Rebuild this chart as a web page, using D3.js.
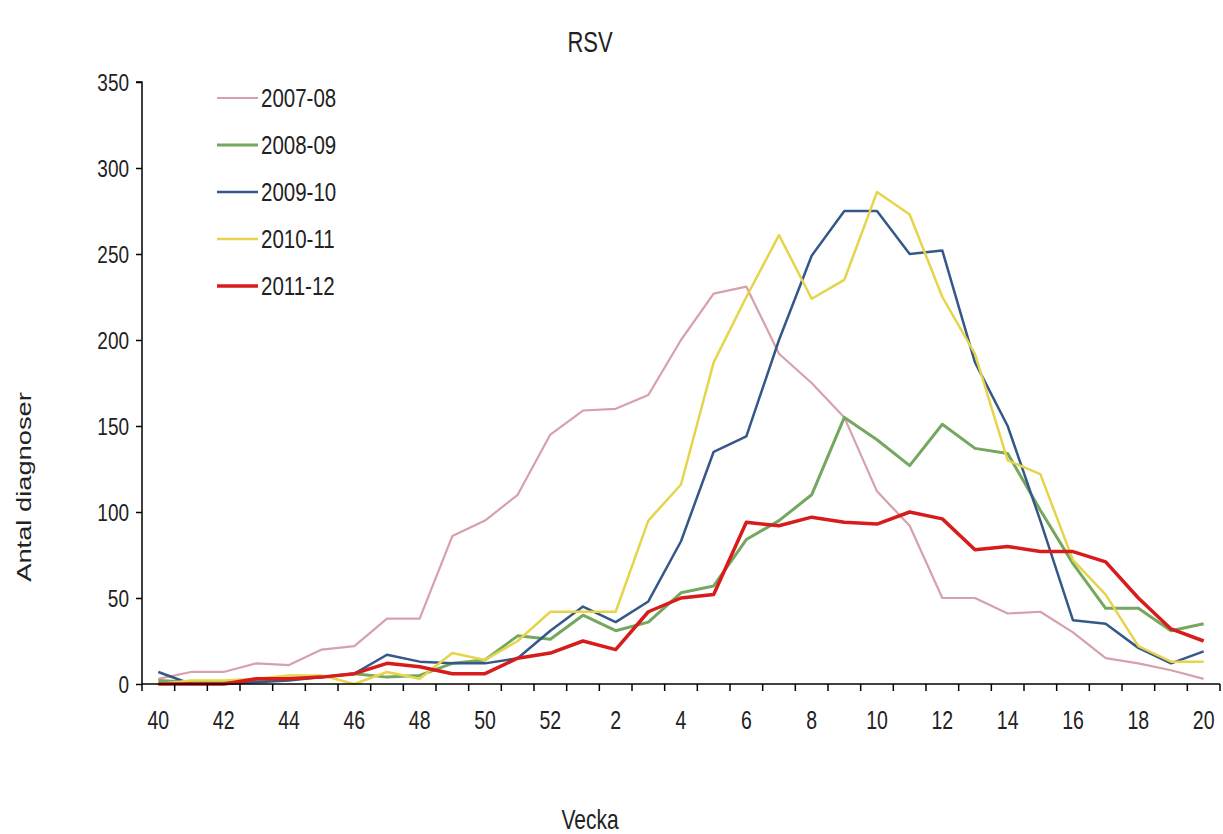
<!DOCTYPE html>
<html><head><meta charset="utf-8">
<script src="https://cdn.jsdelivr.net/npm/d3@7"></script>
<style>body{margin:0;background:#fff;} svg{display:block;} text{font-family:"Liberation Sans",Arial,sans-serif;fill:#222;}</style>
</head><body><svg id="c" width="1223" height="834"></svg>
<script>
const weeks = [40,41,42,43,44,45,46,47,48,49,50,51,52,1,2,3,4,5,6,7,8,9,10,11,12,13,14,15,16,17,18,19,20];
const tickWeeks = [40,42,44,46,48,50,52,2,4,6,8,10,12,14,16,18,20];
const yTicks = [0,50,100,150,200,250,300,350];
const seriesNames = ["2007-08","2008-09","2009-10","2010-11","2011-12"];
const s0708 = [3,7,7,12,11,20,22,38,38,86,95,110,145,159,160,168,200,227,231,192,175,155,112,92,50,50,41,42,30,15,12,8,3];
const s0809 = [2,1,1,2,3,4,6,4,5,12,14,28,26,40,31,36,53,57,84,95,110,155,142,127,151,137,134,101,70,44,44,31,35];
const s0910 = [7,0,0,1,2,4,6,17,13,12,12,15,31,45,36,48,83,135,144,200,249,275,275,250,252,187,150,95,37,35,21,12,19];
const s1011 = [0,2,2,3,5,5,0,7,3,18,14,25,42,42,42,95,116,187,225,261,224,235,286,273,225,192,130,122,72,52,22,13,13];
const s1112 = [0,0,0,3,3,4,6,12,10,6,6,15,18,25,20,42,50,52,94,92,97,94,93,100,96,78,80,77,77,71,50,32,25];
const seriesValues = [s0708,s0809,s0910,s1011,s1112];
const colors = ["#d7a1ab","#74a85e","#355889","#e6d44a","#d81c1c"];
const widths = [2.2,3,2.5,2.5,3.5];

const svg = d3.select("#c");
const L = 142, R = 1220, T = 82, B = 684;
const SY = 1.3; // vertical stretch of text as in the reference
const x = d3.scaleBand().domain(d3.range(weeks.length)).range([L, R]);
const xc = i => x(i) + x.bandwidth()/2;
const y = d3.scaleLinear().domain([0,350]).range([B, T]);

function label(g, px, py, str, size, anchor, rot){
  const sc = rot ? `scale(${SY},1)` : `scale(1,${SY})`;
  return g.append("text")
    .attr("transform", `translate(${px},${py})` + (rot ? ` rotate(${rot})` : "") + " " + sc)
    .attr("text-anchor", anchor || "middle")
    .attr("dy","0.35em")
    .style("font-size", size + "px")
    .text(str);
}

// lines
const line = d3.line().x((d,i)=>xc(i)).y(d=>y(d));
seriesValues.forEach((vals,k)=>{
  svg.append("path").datum(vals).attr("fill","none")
    .attr("stroke",colors[k]).attr("stroke-width",widths[k])
    .attr("stroke-linejoin","round").attr("d",line);
});

// y axis
const ya = svg.append("g").attr("transform",`translate(${L},0)`)
  .call(d3.axisLeft(y).tickValues(yTicks).tickSize(6).tickFormat(""));
ya.select(".domain").attr("stroke","#000").attr("stroke-width",1.5).attr("d",`M-6,${T}H0V${B}`);
ya.selectAll(".tick line").attr("stroke","#000").attr("stroke-width",1.5);
yTicks.forEach(v=>label(svg, 129, y(v), v, 19, "end"));

// x axis: ticks between categories, labels at category centres
const xa = svg.append("g").attr("transform",`translate(0,${B})`);
xa.append("line").attr("x1",L).attr("x2",R).attr("stroke","#000").attr("stroke-width",1.5);
d3.range(weeks.length+1).forEach(i=>{
  const px = i<weeks.length ? x(i) : R;
  xa.append("line").attr("x1",px).attr("x2",px).attr("y1",0).attr("y2",7).attr("stroke","#000").attr("stroke-width",1.5);
});
weeks.forEach((w,i)=>{
  if(tickWeeks.includes(w) && !(w===2 && i<13)){
    label(svg, xc(i), 720, w, 19.5, "middle");
  }
});

// titles
label(svg, 590, 42, "RSV", 22, "middle");
label(svg, 590, 819, "Vecka", 21, "middle");
label(svg, 24, 487, "Antal diagnoser", 21, "middle", -90);

// legend
seriesNames.forEach((n,k)=>{
  const yy = 98 + k*47;
  svg.append("line").attr("x1",217).attr("x2",258).attr("y1",yy).attr("y2",yy).attr("stroke",colors[k]).attr("stroke-width",widths[k]);
  label(svg, 261, yy, n, 20.5, "start");
});
</script></body></html>
